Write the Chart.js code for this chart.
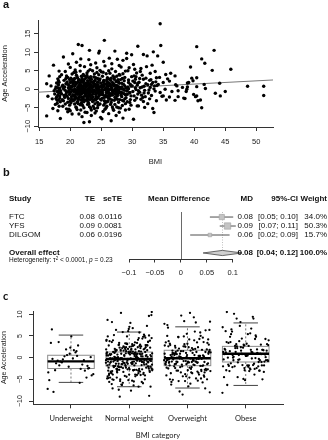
<!DOCTYPE html>
<html>
<head>
<meta charset="utf-8">
<script src="https://cdn.jsdelivr.net/npm/chart.js@4.4.1/dist/chart.umd.min.js"></script>
<style>
  html, body { margin: 0; padding: 0; background: #fff; }
  #wrap { position: relative; width: 328px; height: 440px; overflow: hidden; }
  canvas { position: absolute; left: 0; }
  .tag { position: absolute; left: 3px; font: bold 11px/11px "Liberation Sans", Arial, sans-serif; color: #111; }
</style>
</head>
<body>
<div id="wrap">
  <canvas id="chartA" width="328" height="168" style="top:0"></canvas>
  <canvas id="chartB" width="328" height="120" style="top:165px"></canvas>
  <canvas id="chartC" width="328" height="150" style="top:290px"></canvas>
  <div class="tag" style="top:-1px">a</div>
  <div class="tag" style="top:167px">b</div>
  <div class="tag" style="top:290px;font-family:Lato">c</div>
</div>
<script>
// ---- panel a : BMI vs age acceleration ----
const bmiAge = [
  // underweight
  [16.2,-7.2],[16.2,1.5],[16.6,3.6],[16.4,-1.9],[16.9,0.9],
  [17.3,6.5],[17.1,-2.6],[17.4,-0.4],[17.6,-4.1],[17.8,1.7],[17.5,-1.3],[17.9,-3.0],[17.7,0.6],[17.2,-5.2],
  [18.0,2.8],[18.1,-0.9],[18.3,-2.4],[18.2,4.9],[18.4,-7.9],[18.0,-1.6],[18.3,0.3],[17.9,-3.8],[18.1,1.2],
  [18.4,-0.7],[18.2,-4.6],[17.8,-2.1],[18.3,3.4],[18.0,-5.8],[18.4,-1.1],[17.6,0.1],[18.2,-0.2],[18.1,-2.9],
  [17.9,-0.6],[18.2,1.9],[18.4,-3.4],[18.0,0.4],[18.3,-1.8],[17.7,-2.5],[18.1,2.3],[18.4,-0.3],
  // normal weight
  [18.6,-1.2],[18.7,0.8],[18.9,-3.1],[19.0,2.4],[19.2,-0.3],[18.8,-4.6],[19.3,1.5],[19.1,-2.2],[18.6,3.9],
  [19.4,-5.3],[18.9,0.2],[19.2,4.8],[19.0,-1.7],[18.9,8.7],[18.7,-2.8],[19.3,2.9],[19.4,-0.9],[18.8,1.1],
  [19.6,-6.1],[19.8,-0.5],[20.0,5.9],[19.7,-2.5],[20.2,0.9],[19.9,-1.4],[20.4,2.1],[19.6,3.2],[20.1,-3.7],
  [20.3,-0.1],[19.8,-5.4],[20.4,9.6],[20.0,1.8],[19.5,-1.9],[20.2,-2.7],[19.7,0.4],[20.3,4.1],[19.9,-4.3],
  [20.1,-0.8],[20.4,-1.5],[19.6,1.3],[20.0,-3.2],[20.2,2.7],[19.8,-0.2],[20.3,-6.7],[19.7,6.8],
  [20.6,-0.6],[20.8,1.9],[21.0,-2.3],[21.2,0.5],[20.7,-4.0],[21.1,3.4],[21.4,-1.1],[20.9,-0.3],[21.3,12.1],
  [21.0,-5.0],[20.6,2.6],[21.2,-3.3],[21.4,1.0],[20.8,-1.8],[21.1,-0.1],[20.9,4.6],[21.3,-2.7],[20.7,0.8],
  [21.4,-6.7],[21.0,1.6],[20.6,-3.0],[21.2,-1.4],[20.8,5.2],[21.1,-0.9],[21.3,2.2],[20.9,-4.8],[21.4,0.1],
  [20.7,-2.0],[21.0,7.3],[21.3,-3.9],[20.8,-0.4],[21.2,3.0],
  [21.6,-1.5],[21.9,11.8],[22.1,0.3],[21.7,-2.9],[22.3,1.4],[21.8,-0.7],[22.0,-4.4],[22.4,2.8],[21.6,0.9],
  [22.2,-9.0],[21.9,-2.1],[22.3,-0.2],[22.1,4.0],[21.7,-5.6],[22.4,-1.2],[22.0,1.9],[21.8,3.5],[22.2,-3.4],
  [21.6,-0.4],[22.3,6.1],[21.9,0.6],[22.1,-2.6],[22.4,-6.2],[21.7,2.3],[22.0,-1.0],[22.2,1.1],[21.8,-3.8],
  [22.3,-1.9],[21.6,4.9],[22.1,-0.6],[21.9,-7.4],[22.4,0.2],[22.0,2.5],[21.7,8.2],
  [22.6,0.7],[22.9,-2.4],[23.1,10.5],[22.7,-0.9],[23.3,1.8],[22.8,-4.1],[23.0,3.1],[23.4,-1.6],[22.6,-3.0],
  [23.2,-0.1],[23.1,-8.8],[22.9,2.0],[23.3,-5.1],[22.7,4.4],[23.0,-1.3],[23.4,0.5],[22.8,1.2],[23.2,-2.8],
  [22.6,-0.5],[23.3,6.6],[22.9,-3.5],[23.1,0.9],[22.7,-6.3],[23.0,-0.3],[23.4,2.7],[22.8,-1.9],[23.2,5.3],
  [22.6,1.5],[23.1,-4.7],[22.9,-0.7],[23.3,-2.2],[22.7,3.7],[23.0,8.0],[23.4,-7.1],
  [23.6,-0.8],[23.8,1.6],[24.0,-2.7],[24.2,0.4],[23.7,-4.6],[24.4,2.9],[24.1,-1.4],[23.9,-0.2],[24.3,4.5],
  [24.7,10.3],[23.6,-3.3],[24.0,1.0],[24.5,-0.5],[24.2,-5.9],[23.8,3.3],[24.6,-1.8],[24.3,0.8],[23.7,-2.1],
  [24.9,1.7],[24.1,7.1],[24.4,-3.6],[23.9,2.2],[24.8,-0.9],[24.6,9.8],[24.0,-6.4],[24.5,0.0],[23.6,5.0],
  [24.2,-1.1],[24.8,-4.0],[24.7,2.4],[23.8,-0.4],[24.3,-2.5],[24.9,-7.6],[24.1,1.3],[24.4,-1.0],[23.7,0.6],
  [24.6,3.9],[24.0,-3.9],[24.8,0.7],[24.5,-2.3],[23.9,-5.2],[24.7,-0.2],[24.3,5.8],[24.9,-1.5],
  [19.1,0.6],[19.3,-1.4],[19.5,2.0],[19.6,-3.5],[19.8,1.0],[19.9,-0.9],[20.0,0.2],[20.1,3.0],[20.2,-2.0],
  [20.3,0.7],[20.4,-3.1],[20.5,1.4],[20.5,-0.4],[20.6,-1.6],[20.7,2.9],[20.8,-2.6],[20.9,1.3],[21.0,-0.7],
  [21.0,3.8],[21.1,-3.6],[21.2,1.8],[21.3,-0.5],[21.4,2.6],[21.5,-2.2],[21.5,0.3],[21.6,-4.2],[21.7,1.2],
  [21.8,-1.3],[21.8,0.1],[21.9,2.9],[22.0,-2.4],[22.0,0.8],[22.1,-3.2],[22.2,2.2],[22.3,-0.8],[22.4,-2.9],
  [22.5,1.6],[22.5,-1.6],[22.6,3.2],[22.7,-2.3],[22.8,0.0],[22.8,2.3],[22.9,-1.0],[23.0,1.4],[23.0,-3.9],
  [23.1,-1.7],[23.2,2.5],[23.3,-0.6],[23.4,1.1],[23.5,-2.6],[23.5,0.4],[23.6,2.0],[23.7,-1.2],[23.8,-3.0],
  [23.9,0.9],[24.0,-0.6],[24.1,3.1],[24.2,-2.0],[24.3,-0.3],[24.4,1.9],[24.5,-4.3],[24.6,0.5],[24.7,-1.4],
  [24.8,2.8],[24.9,-2.7],[19.4,3.6],[19.2,-4.0],[20.0,-5.8],[20.6,4.5],[21.1,-5.5],[21.6,6.4],[22.2,-5.0],
  [22.9,4.9],[23.4,-5.6],[23.9,4.1],[24.4,-5.0],[24.8,5.1],[20.9,-1.2],[21.7,-0.9],[22.4,0.9],[23.6,-0.3],
  [24.2,0.9],[20.3,1.9],[19.7,-0.7],[21.3,0.6],[22.7,1.0],[23.2,-1.0],[24.6,-0.8],[22.0,-0.2],[21.4,-2.1],
  [23.8,1.4],[20.7,0.0],[22.6,-1.2],[24.0,2.4],[21.9,-3.0],[23.3,3.4],[20.5,-2.8],[22.3,3.6],[24.5,1.2],
  [21.2,-0.2],[23.0,0.3],[19.9,2.6],[24.1,-2.9],[22.8,-2.8],[21.6,1.7],
  // overweight
  [25.1,-0.6],[25.3,1.9],[25.5,13.2],[25.2,-2.4],[25.7,0.3],[25.4,-4.3],[25.9,2.6],[25.0,-1.2],[25.6,-0.1],
  [25.8,4.2],[25.3,-6.0],[25.1,1.1],[25.5,-3.1],[25.9,-0.8],[25.2,3.5],[25.7,-1.7],[25.4,0.8],[25.6,6.3],
  [25.0,-2.9],[25.8,-5.0],[25.3,-0.3],[25.9,1.5],[25.1,-8.0],[25.5,2.2],[25.7,-2.0],[25.2,0.5],[25.6,-3.8],
  [25.4,7.5],[25.8,-0.9],[25.0,4.7],[25.3,-1.5],[25.9,-4.6],
  [26.1,0.2],[26.3,-1.9],[26.6,-8.5],[26.2,2.8],[26.8,-0.6],[26.4,1.3],[26.0,-3.4],[26.7,5.5],[26.5,-1.2],
  [26.9,-5.3],[26.2,0.9],[26.6,3.0],[26.4,-2.6],[26.1,-0.4],[26.8,1.8],[26.3,8.4],[26.5,-4.1],[26.0,2.0],
  [26.9,-1.0],[26.7,-2.9],[26.2,-6.6],[26.6,0.6],[26.4,4.3],[26.8,-0.2],[26.1,-3.1],[26.5,1.1],[26.3,-1.5],
  [26.9,3.6],[26.0,-0.8],[26.7,6.9],
  [27.1,-0.3],[27.4,2.1],[27.6,-2.7],[27.2,10.3],[27.8,0.7],[27.5,-4.8],[27.0,1.5],[27.3,-1.4],[27.9,4.0],
  [27.7,-0.9],[27.4,-7.1],[27.1,3.2],[27.6,-1.8],[27.8,-3.5],[27.3,0.2],[27.9,6.4],[27.2,-2.2],[27.5,1.0],
  [27.0,-5.7],[27.7,2.6],[27.4,-0.6],[27.6,8.1],[27.1,-3.0],[27.8,1.9],[27.3,-1.1],[27.9,-6.2],
  [28.1,0.4],[28.3,-2.0],[28.5,7.8],[28.2,-0.7],[28.7,2.3],[28.4,-4.4],[28.9,-1.5],[28.0,3.8],[28.6,-3.2],
  [28.5,-7.8],[28.8,0.9],[28.3,1.6],[28.1,-5.1],[28.7,-0.3],[28.9,4.9],[28.4,-1.0],[28.2,6.0],[28.6,0.0],
  [28.8,-2.6],[28.0,-0.9],[28.4,2.9],[28.9,-3.9],
  [29.1,9.7],[29.1,8.3],[29.6,-3.6],[29.3,0.6],[29.8,-1.8],[29.4,2.5],[29.2,-0.5],[29.7,1.3],[29.5,-5.4],
  [29.9,3.4],[29.0,-2.3],[29.6,-0.9],[29.3,5.0],[29.8,-4.3],[29.4,0.1],[29.9,9.3],[29.2,-1.4],[29.7,-2.8],
  [25.0,0.6],[25.2,-1.0],[25.4,2.4],[25.5,-2.2],[25.6,1.4],[25.7,-3.4],[25.8,0.0],[25.9,-1.9],[26.0,3.1],
  [26.1,-2.3],[26.2,-0.9],[26.3,1.6],[26.4,-0.1],[26.5,2.4],[26.6,-3.6],[26.7,0.4],[26.8,-1.6],[26.9,1.2],
  [27.0,-0.5],[27.1,2.7],[27.2,-4.1],[27.3,1.1],[27.4,-2.5],[27.5,3.5],[27.6,0.3],[27.7,-1.3],[27.8,-0.2],
  [27.9,1.6],[28.0,-2.8],[28.1,2.6],[28.2,-1.6],[28.3,0.6],[28.4,-3.0],[28.6,1.3],[28.7,-1.2],[28.8,3.2],
  [29.0,0.4],[29.2,-3.4],[29.4,1.8],[29.6,-1.0],[29.8,0.9],[25.3,4.6],[25.6,-5.4],[26.2,5.0],[26.8,-4.8],
  [27.3,4.8],[27.8,-5.0],[28.5,4.2],[28.9,-5.6],[29.5,5.8],[25.1,-0.2],[25.9,0.9],[26.5,-1.6],[27.1,0.9],
  [27.6,-1.0],[28.2,0.2],[29.1,-0.4],[26.0,-1.1],[27.5,-0.2],[25.4,1.2],
  // obese
  [30.2,-8.1],[30.2,6.7],[30.9,11.6],[30.1,-0.6],[30.4,1.8],[30.7,-2.4],[30.3,3.6],[30.6,-0.1],[30.8,-4.5],
  [30.0,0.9],[30.5,2.7],[30.9,-1.3],[30.4,-3.0],[30.7,4.4],
  [31.0,-4.5],[31.8,9.4],[31.8,2.7],[31.8,-3.3],[31.3,0.4],[31.5,-1.6],[31.1,1.9],[31.6,3.8],[31.2,-0.8],
  [31.4,5.6],[31.7,-2.2],[31.9,0.8],
  [32.0,-4.9],[32.3,6.1],[32.5,-3.9],[32.4,9.0],[32.9,4.3],[32.9,0.5],[32.2,1.5],[32.6,-1.0],[32.8,2.4],
  [32.1,-2.0],[32.7,-0.2],
  [33.4,10.1],[33.3,1.8],[33.3,-5.2],[33.5,-6.3],[33.7,4.8],[33.7,-0.5],[33.9,3.1],[33.9,-3.1],[33.2,6.5],
  [33.6,0.9],[33.1,-1.7],[33.8,2.0],
  [34.5,17.7],[34.6,11.8],[34.1,9.0],[34.2,1.3],[34.5,-0.9],[34.4,3.2],[34.8,-1.9],[34.0,1.0],
  [35.0,7.3],[35.4,4.0],[35.0,1.8],[35.3,0.0],[35.0,-1.8],[35.7,2.8],[35.5,-2.9],
  [36.2,4.3],[36.0,2.2],[36.4,-0.6],[36.0,-2.1],[36.9,3.6],[36.9,-3.0],
  [37.2,0.9],[37.4,-0.4],[37.0,1.2],[37.4,-2.0],
  [38.9,1.7],[38.1,0.5],[38.8,0.0],[38.3,-2.4],[38.9,0.6],[38.7,-0.6],[38.5,-2.5],
  [39.4,6.0],[39.6,3.0],[39.8,2.3],[39.1,1.8],[39.9,-1.4],
  [40.4,11.5],[40.4,3.1],[40.4,0.7],[40.4,-1.8],[40.6,-3.1],[40.2,-2.0],
  [41.2,8.2],[41.7,7.0],[41.6,1.3],[41.8,0.2],[41.2,-5.0],[41.0,-2.9],
  [43.2,10.5],[42.9,5.1],[43.4,-1.1],[44.1,1.6],[44.2,-1.8],
  [45.9,5.4],[45.0,-0.6],[48.6,0.8],[51.2,0.8],[51.2,-1.7],
  [30.1,2.2],[30.3,-1.8],[30.5,0.4],[30.6,3.4],[30.8,1.1],[31.0,-0.4],[31.2,2.9],[31.4,-2.7],[31.6,0.6],
  [31.9,-1.0],[32.2,3.0],[32.5,1.2],[32.8,-2.6],[33.0,2.6],[33.5,0.1],[30.4,5.4],[31.3,4.8],[32.0,-0.3],
  [30.9,1.6],[33.1,1.3]
];
// fitted line end points
const fitX = [14.8, 52.7];
const fitY = [-0.8, 2.5];
const bmiTicks = [15, 20, 25, 30, 35, 40, 45, 50];
const ageTicksA = [-10, -5, 0, 5, 10, 15];
const ageTickLabelsA = ['\u221210', '\u22125', '0', '5', '10', '15'];

// ---- panel b : forest plot ----
const studies = ['FTC', 'YFS', 'DILGOM'];
const teText = ['0.08', '0.09', '0.06'];
const seTeText = ['0.0116', '0.0081', '0.0196'];
const ciText = ['[0.05; 0.10]', '[0.07; 0.11]', '[0.02; 0.09]'];
const weightText = ['34.0%', '50.3%', '15.7%'];
const te = [0.079, 0.090, 0.056];
const ciLow = [0.056, 0.075, 0.018];
const ciHigh = [0.101, 0.106, 0.094];
const weights = [34.0, 50.3, 15.7];
const overallTe = 0.080, overallLow = 0.043, overallHigh = 0.118;
const mdTicks = [-0.1, -0.05, 0, 0.05, 0.1];
const mdTickLabels = ['\u22120.1', '\u22120.05', '0', '0.05', '0.1'];

// ---- panel c : age acceleration by BMI category ----
const categories = ['Underweight', 'Normal weight', 'Overweight', 'Obese'];
const bmiCuts = [18.5, 25, 30];
const whiskerLow = [-5.7, -6.7, -7.0, -6.4];
const boxQ1 = [-2.5, -1.9, -1.85, -1.0];
const boxMedian = [-0.85, -0.3, -0.15, 0.9];
const boxQ3 = [0.55, 1.3, 1.7, 2.6];
const whiskerHigh = [5.2, 5.9, 7.1, 8.0];
const ageTicksC = [-10, -5, 0, 5, 10];
const ageTickLabelsC = ['\u221210', '\u22125', '0', '5', '10'];

Chart.defaults.font.family = '"Liberation Sans", Arial, sans-serif';
Chart.defaults.color = '#1a1a1a';
Chart.defaults.animation = false;
Chart.defaults.events = [];
Chart.defaults.plugins.legend.display = false;
Chart.defaults.plugins.tooltip.enabled = false;

const axisGrey = '#333';

new Chart(document.getElementById('chartA'), {
  type: 'scatter',
  data: {
    datasets: [
      {
        type: 'line',
        data: fitX.map((x, i) => ({ x: x, y: fitY[i] })),
        borderColor: '#777',
        borderWidth: 1,
        pointRadius: 0,
        order: 2
      },
      {
        data: bmiAge.map(p => ({ x: p[0], y: p[1] })),
        backgroundColor: '#000',
        borderWidth: 0,
        pointRadius: 1.7,
        order: 1
      }
    ]
  },
  options: {
    responsive: false,
    layout: { padding: { left: 0, top: 20, right: 55, bottom: 1 } },
    scales: {
      x: {
        type: 'linear', min: 14.8, max: 52.7,
        afterBuildTicks: s => { s.ticks = bmiTicks.map(v => ({ value: v })); },
        afterFit: s => { s.height = 40; },
        border: { color: axisGrey, width: 1 },
        grid: { drawOnChartArea: false, tickLength: 4, color: axisGrey },
        ticks: { font: { size: 7.5 }, padding: 6.5, maxRotation: 0, autoSkip: false, callback: v => String(v) },
        title: { display: true, text: 'BMI', font: { size: 7.5 }, padding: { top: 0, bottom: 0.5 } }
      },
      y: {
        type: 'linear', min: -10.2, max: 18.7,
        afterBuildTicks: s => { s.ticks = ageTicksA.map(v => ({ value: v })); },
        afterFit: s => { s.width = 38; },
        border: { color: axisGrey, width: 1 },
        grid: { drawOnChartArea: false, tickLength: 4, color: axisGrey },
        ticks: { font: { size: 7.5 }, padding: 0, minRotation: 90, maxRotation: 90, crossAlign: 'center',
                 autoSkip: false, callback: (v, i) => ageTickLabelsA[i] },
        title: { display: true, text: 'Age Acceleration', font: { size: 7.5 }, padding: 0 }
      }
    }
  }
});

// forest plot rows on the y scale
const studyRows = [1, 2, 3];
const headerRow = -1, overallRow = 5, hetRow = 5.85;
const cols = { study: 9, te: 95, se: 122, mean: 179, md: 253, ci: 298, weight: 327 };

function seg(ctx, x1, y1, x2, y2) {
  ctx.beginPath(); ctx.moveTo(x1, y1); ctx.lineTo(x2, y2); ctx.stroke();
}
function put(ctx, s, x, y, align, font) {
  ctx.font = font; ctx.textAlign = align; ctx.textBaseline = 'middle'; ctx.fillText(s, x, y);
  return ctx.measureText(s).width;
}

const forestPlugin = {
  id: 'forest',
  beforeDatasetsDraw(chart) {
    const { ctx, chartArea: ca, scales: { x, y } } = chart;
    ctx.save();
    ctx.strokeStyle = '#444'; ctx.lineWidth = 0.8;
    const x0 = Math.round(x.getPixelForValue(0)) + 0.5;
    seg(ctx, x0, ca.top, x0, ca.bottom);
    const yo = y.getPixelForValue(overallRow);
    const dh = 2.6;
    const xo = Math.round(x.getPixelForValue(overallTe)) + 0.5;
    ctx.strokeStyle = '#b0b0b0'; ctx.setLineDash([1, 1.5]);
    seg(ctx, xo, ca.top, xo, yo - dh);
    ctx.setLineDash([]);
    ctx.strokeStyle = '#3a3a3a'; ctx.lineWidth = 0.9;
    studies.forEach((s, i) => {
      const yy = y.getPixelForValue(studyRows[i]);
      seg(ctx, x.getPixelForValue(ciLow[i]), yy, x.getPixelForValue(ciHigh[i]), yy);
    });
    const xl = x.getPixelForValue(overallLow), xh = x.getPixelForValue(overallHigh);
    const xm = x.getPixelForValue(overallTe);
    ctx.beginPath();
    ctx.moveTo(xl, yo); ctx.lineTo(xm, yo - dh); ctx.lineTo(xh, yo); ctx.lineTo(xm, yo + dh); ctx.closePath();
    ctx.fillStyle = '#cfcfcf'; ctx.fill();
    ctx.strokeStyle = '#444'; ctx.lineWidth = 0.8; ctx.stroke();
    ctx.restore();
  },
  afterDraw(chart) {
    const { ctx, scales: { y } } = chart;
    ctx.save();
    ctx.fillStyle = '#111';
    const bold = 'bold 8px "Liberation Sans", Arial, sans-serif';
    const norm = '8px "Liberation Sans", Arial, sans-serif';
    const yh = y.getPixelForValue(headerRow);
    put(ctx, 'Study', cols.study, yh, 'left', bold);
    put(ctx, 'TE', cols.te, yh, 'right', bold);
    put(ctx, 'seTE', cols.se, yh, 'right', bold);
    put(ctx, 'Mean Difference', cols.mean, yh, 'center', bold);
    put(ctx, 'MD', cols.md, yh, 'right', bold);
    put(ctx, '95%-CI', cols.ci, yh, 'right', bold);
    put(ctx, 'Weight', cols.weight, yh, 'right', bold);
    studies.forEach((s, i) => {
      const yy = y.getPixelForValue(studyRows[i]);
      put(ctx, s, cols.study, yy, 'left', norm);
      put(ctx, teText[i], cols.te, yy, 'right', norm);
      put(ctx, seTeText[i], cols.se, yy, 'right', norm);
      put(ctx, teText[i], cols.md, yy, 'right', norm);
      put(ctx, ciText[i], cols.ci, yy, 'right', norm);
      put(ctx, weightText[i], cols.weight, yy, 'right', norm);
    });
    const yo = y.getPixelForValue(overallRow);
    put(ctx, 'Overall effect', cols.study, yo, 'left', bold);
    put(ctx, '0.08', cols.md, yo, 'right', bold);
    put(ctx, '[0.04; 0.12]', cols.ci, yo, 'right', bold);
    put(ctx, '100.0%', cols.weight, yo, 'right', bold);
    const yt = y.getPixelForValue(hetRow);
    const small = '6.5px "Liberation Sans", Arial, sans-serif';
    let cx = cols.study;
    cx += put(ctx, 'Heterogeneity: \u03c4', cx, yt, 'left', small);
    cx += put(ctx, '2', cx, yt - 2.3, 'left', '4.5px "Liberation Sans", Arial, sans-serif');
    cx += put(ctx, ' < 0.0001, ', cx, yt, 'left', small);
    cx += put(ctx, 'p', cx, yt, 'left', 'italic ' + small);
    put(ctx, ' = 0.23', cx, yt, 'left', small);
    ctx.restore();
  }
};

new Chart(document.getElementById('chartB'), {
  type: 'scatter',
  data: {
    datasets: [
      {
        data: studies.map((s, i) => ({ x: te[i], y: studyRows[i] })),
        pointStyle: 'rect',
        pointRadius: weights.map(w => Math.sqrt(w) * 0.9 / 1.414),
        backgroundColor: '#c4c4c4',
        borderColor: '#a0a0a0',
        borderWidth: 0.6,
        clip: false
      },
      {
        data: studies.map((s, i) => ({ x: te[i], y: studyRows[i] })),
        pointStyle: 'rect',
        pointRadius: 0.9,
        backgroundColor: '#333',
        borderWidth: 0,
        clip: false
      }
    ]
  },
  options: {
    responsive: false,
    layout: { padding: { left: 129, top: 47, right: 95.3, bottom: 0 } },
    scales: {
      x: {
        type: 'linear', min: -0.1, max: 0.1,
        afterBuildTicks: s => { s.ticks = mdTicks.map(v => ({ value: v })); },
        afterFit: s => { s.height = 26; },
        border: { color: axisGrey, width: 1 },
        grid: { drawOnChartArea: false, tickLength: 3.5, color: axisGrey },
        ticks: { font: { size: 7.5 }, padding: 6, maxRotation: 0, autoSkip: false, callback: (v, i) => mdTickLabels[i] }
      },
      y: { type: 'linear', min: 0.44, max: 5.67, reverse: true, display: false }
    }
  },
  plugins: [forestPlugin]
});

// panel c points: same subjects grouped by BMI category, spread sideways
const stripPoints = [];
const perCat = [0, 0, 0, 0];
bmiAge.forEach(p => {
  if (Math.abs(p[1]) > 10.75) return;
  const k = bmiCuts.filter(c => p[0] >= c).length;
  const n = perCat[k]++;
  const spread = ((n * 0.618034) % 1 - 0.5) * 0.8;
  stripPoints.push({ x: k + 1 + spread, y: p[1] });
});

const boxPlugin = {
  id: 'boxes',
  beforeDatasetsDraw(chart) {
    const { ctx, scales: { x, y } } = chart;
    ctx.save();
    categories.forEach((c, i) => {
      const mid = x.getPixelForValue(i + 1);
      const l = x.getPixelForValue(i + 1 - 0.4), r = x.getPixelForValue(i + 1 + 0.4);
      const cl = x.getPixelForValue(i + 1 - 0.21), cr = x.getPixelForValue(i + 1 + 0.21);
      const yLo = y.getPixelForValue(whiskerLow[i]), yHi = y.getPixelForValue(whiskerHigh[i]);
      const y1 = y.getPixelForValue(boxQ1[i]), y3 = y.getPixelForValue(boxQ3[i]);
      const ym = y.getPixelForValue(boxMedian[i]);
      ctx.lineWidth = 1;
      ctx.strokeStyle = '#777'; ctx.setLineDash([2, 2]);
      seg(ctx, mid, y3, mid, yHi);
      seg(ctx, mid, y1, mid, yLo);
      ctx.setLineDash([]);
      ctx.strokeStyle = '#444';
      seg(ctx, cl, yHi, cr, yHi);
      seg(ctx, cl, yLo, cr, yLo);
      ctx.fillStyle = '#fff';
      ctx.fillRect(l, y3, r - l, y1 - y3);
      ctx.strokeStyle = '#8c8c8c';
      ctx.strokeRect(l, y3, r - l, y1 - y3);
      ctx.strokeStyle = '#000'; ctx.lineWidth = 2.4;
      seg(ctx, l, ym, r, ym);
    });
    ctx.restore();
  }
};

new Chart(document.getElementById('chartC'), {
  type: 'scatter',
  data: {
    datasets: [{
      data: stripPoints,
      backgroundColor: '#000',
      borderWidth: 0,
      pointRadius: 1.15
    }]
  },
  options: {
    responsive: false,
    layout: { padding: { left: 0, top: 21, right: 45, bottom: 0 } },
    scales: {
      x: {
        type: 'linear', min: 0.348, max: 4.64,
        afterBuildTicks: s => { s.ticks = categories.map((c, i) => ({ value: i + 1 })); },
        afterFit: s => { s.height = 35.7; },
        border: { color: axisGrey, width: 1 },
        grid: { drawOnChartArea: false, tickLength: 4, color: axisGrey },
        ticks: { font: { family: 'Lato', size: 7.5 }, padding: 6, maxRotation: 0, autoSkip: false,
                 callback: (v, i) => categories[i] },
        title: { display: true, text: 'BMI category', font: { family: 'Lato', size: 7.5 }, padding: { top: 0, bottom: 0.2 } }
      },
      y: {
        type: 'linear', min: -10.75, max: 10.75,
        afterBuildTicks: s => { s.ticks = ageTicksC.map(v => ({ value: v })); },
        afterFit: s => { s.width = 33; },
        border: { color: axisGrey, width: 1 },
        grid: { drawOnChartArea: false, tickLength: 4, color: axisGrey },
        ticks: { font: { size: 7 }, padding: 3, minRotation: 90, maxRotation: 90, crossAlign: 'center',
                 autoSkip: false, callback: (v, i) => ageTickLabelsC[i] },
        title: { display: true, text: 'Age Acceleration', font: { size: 7 }, padding: 0 }
      }
    }
  },
  plugins: [boxPlugin]
});
</script>
</body>
</html>
